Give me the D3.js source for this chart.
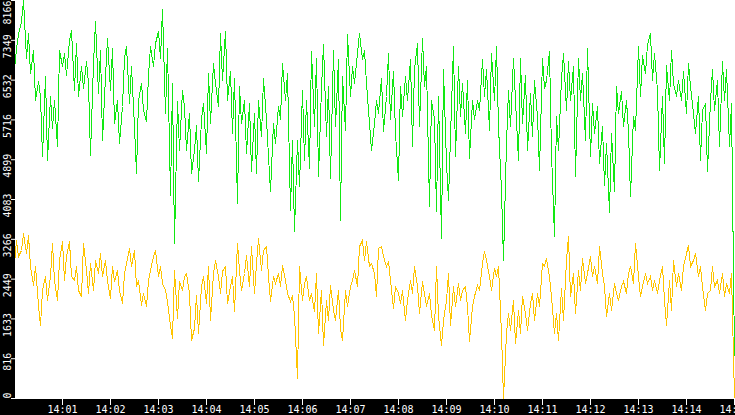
<!DOCTYPE html>
<html>
<head>
<meta charset="utf-8">
<script src="https://cdn.jsdelivr.net/npm/d3@7"></script>
<style>
html, body { margin: 0; padding: 0; background: #fff; overflow: hidden; }
svg { display: block; }
</style>
</head>
<body>
<svg width="735" height="415"></svg>
<script>
// samples every 3 seconds, 14:00:00 .. 14:15:00
var startTime = new Date(2024, 0, 1, 14, 0, 0),
    stepSec   = 3;

var greenSeries = [
  6730,7174,7448,7721,8166,6969,7482,6661,7140,6114,6490,6182,4951,6593,4883,6182,5533,6114,5156,7140,
  6798,7072,6627,7345,7550,6319,7277,6182,6798,6353,6901,6456,4985,6866,7721,6251,7140,5293,6593,7379,
  6319,7174,5635,6114,5225,5977,6969,7208,6046,6798,5567,4609,6114,6456,5909,5669,6627,7208,6798,7277,
  7516,6969,7961,5840,7174,4165,6456,3173,6080,5088,6319,5977,5088,5840,4609,
  5088,5601,4438,5704,6046,5020,6661,5635,6866,6456,5977,7482,6524,7516,6114,6695,5430,6559,3994,6388,
  5635,6114,5020,6046,4643,5840,4609,6114,5362,6559,5704,4951,4233,5635,5225,5977,5704,6866,6114,6661,
  3857,5293,3412,5293,4336,6319,4883,6114,4712,7106,5567,6969,4541,6353,7243,5362,6388,4507,7140,5567,
  6935,3652,6593,5498,7448,6182,6798,6456,7072,7482,6935,7140,6456,5635,5088,
  5635,6114,5840,6559,5464,6182,7072,5704,6695,5430,4472,6388,5772,6593,6114,6935,5156,6730,7277,5567,
  7379,6388,6798,3925,6114,5704,3823,6182,3275,6730,4814,4062,5362,7208,4951,6798,5772,6456,5430,6524,
  4917,6114,5704,6114,5909,6935,6182,6730,5498,7072,6114,7208,5567,4267,2831,5225,6319,5567,6969,6114,
  4883,6969,5635,6627,5088,6251,5362,6524,5772,4678,6969,6353,6524,7106,5020,
  3310,5772,5088,6559,7072,5909,6901,6114,6798,4541,6969,6114,6661,5293,7174,4951,6046,5430,5977,4814,
  5567,4370,5225,3802,5430,4233,6388,5840,6285,5567,6114,5464,4130,5772,5498,7208,6182,7037,6661,7243,
  7482,6524,7072,6319,4678,6182,4814,6832,6114,7140,6456,6182,6524,6114,6695,5840,6866,6388,5840,5430,
  6182,4883,5909,6046,4643,6114,6730,5909,6524,5156,6901,6114,6730,5156,6046,847
];

var yellowSeries = [
  2762,3241,2899,3036,3378,2968,3344,2694,2318,2694,1907,1497,2215,2489,2010,2489,3173,2420,2010,2831,
  3207,2420,2899,3207,2489,2420,2694,2215,2078,3173,2626,2147,2762,2215,2831,2557,2968,2489,2831,2420,
  2044,2694,2386,2626,2215,1942,2557,2762,3070,2694,3036,2284,2420,1907,2147,1873,2420,2626,2899,3036,
  2489,2694,2352,2215,1976,1497,1223,2626,1634,2386,2215,2489,2557,2147,1189,
  1429,2113,1326,2284,2489,1942,2694,1600,2557,2831,2489,2147,2591,2694,1942,2284,2489,1771,3173,2626,
  2215,2557,2933,2284,3104,2147,2762,3275,2626,3036,3104,2489,1976,2489,2352,2557,2284,2728,2420,2147,
  1976,2113,1702,403,2694,2010,2352,2489,2010,2147,1771,2557,1326,2215,1087,2010,1600,2318,1805,1600,
  2215,1429,1189,2215,1873,2284,2420,2626,2284,3104,3241,2831,3207,2694,2762,
  2557,2078,3070,3104,2899,2694,2797,2420,1839,2284,2147,1942,2215,1600,2010,2420,2147,2694,2284,1736,
  2386,2147,1873,2147,1702,1394,2694,1668,1087,1600,2010,2557,1497,2284,1873,2352,2010,2215,2284,1873,
  1155,1873,2078,2318,2215,2762,3002,2831,2489,2215,2660,2489,2694,1326,0,1326,1736,1394,2010,1121,
  1805,1326,2078,1736,1394,1942,2147,1600,2147,1873,2762,2694,2865,2489,2078,
  1326,1736,1189,2249,1600,2831,3310,2078,2557,1736,2626,2215,2865,2352,2557,2899,2489,2694,2352,3104,
  2557,2284,1668,2147,1805,2352,2147,2010,2284,2386,2147,2557,2694,2352,3173,2489,2078,2284,2557,2352,
  2489,2215,2420,2147,2420,2694,2010,1497,2420,1805,2831,2284,2557,2215,2694,2968,3139,2694,2831,2968,
  2489,2694,2284,1805,2147,2215,2694,2284,2420,2147,2557,2078,2352,2147,2557,0
];

var yTicks = [0, 816, 1633, 2449, 3266, 4083, 4899, 5716, 6532, 7349, 8166];

var width     = 735,
    height    = 415,
    axisW     = 15,
    plotBot   = 399,
    green     = '#12e812',
    yellow    = '#ffc400',
    font      = '"DejaVu Sans Mono", monospace',
    endTime   = d3.timeMinute.offset(startTime, 15),
    svg       = d3.select('svg');

var x = d3.scaleTime().domain([startTime, endTime]).range([14, 734]);
var y = d3.scaleLinear().domain([0, yTicks[yTicks.length - 1]]).range([plotBot - 1, 0]);

function timeAt(i) { return new Date(+startTime + i * stepSec * 1000); }

// snap to pixel centres so the 1px strokes stay crisp
var line = d3.line()
  .x(function(d, i) { return Math.floor(x(timeAt(i))) + 0.5; })
  .y(function(d) { return Math.floor(y(d)) + 0.5; });

svg.append('rect').attr('width', width).attr('height', height).attr('fill', '#fff');

[[greenSeries, green], [yellowSeries, yellow]].forEach(function(s) {
  svg.append('path')
    .datum(s[0])
    .attr('d', line)
    .attr('fill', 'none')
    .attr('stroke', s[1])
    .attr('stroke-width', 1)
    .attr('shape-rendering', 'crispEdges');
});

// black frame strips
svg.append('rect').attr('x', 0).attr('y', 0).attr('width', axisW).attr('height', height).attr('fill', '#000');
svg.append('rect').attr('x', 0).attr('y', plotBot).attr('width', width).attr('height', height - plotBot).attr('fill', '#000');

// left axis, labels rotated
var yAxis = svg.append('g')
  .attr('transform', 'translate(' + axisW + ',0)')
  .call(d3.axisLeft(y).tickValues(yTicks).tickFormat(d3.format('d')).tickSize(4).tickPadding(0));

yAxis.select('.domain').remove();
yAxis.attr('color', '#fff').attr('font-family', font).attr('font-size', 10);
yAxis.selectAll('.tick text')
  .attr('x', 0)
  .attr('dy', 0)
  .attr('text-anchor', 'end')
  .attr('transform', function(d) { return 'translate(-4,' + Math.max(-6, -y(d)) + ') rotate(-90)'; });

// bottom time axis
var xAxis = svg.append('g')
  .attr('transform', 'translate(0,' + plotBot + ')')
  .call(d3.axisBottom(x)
    .tickValues(d3.timeMinute.range(d3.timeMinute.offset(startTime, 1), d3.timeMinute.offset(endTime, 1)))
    .tickFormat(d3.timeFormat('%H:%M'))
    .tickSize(6));

xAxis.select('.domain').remove();
xAxis.attr('color', '#fff').attr('font-family', font).attr('font-size', 10);
xAxis.selectAll('.tick text').attr('y', 7);
</script>
</body>
</html>
